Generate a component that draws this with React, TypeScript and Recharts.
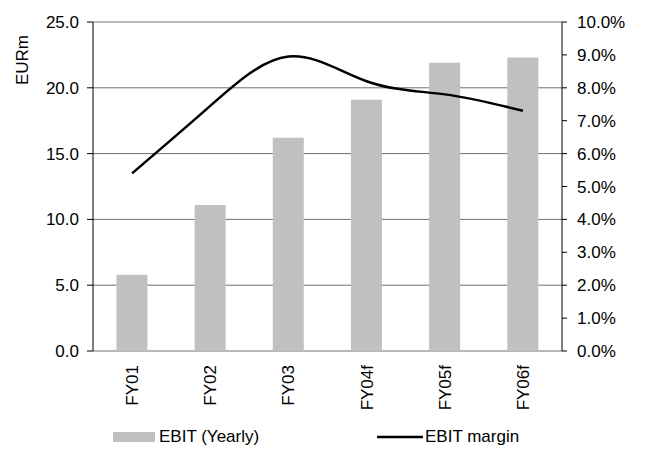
import { ComposedChart, Bar, Line, XAxis, YAxis, CartesianGrid, Legend } from 'recharts'

const years = ['FY01', 'FY02', 'FY03', 'FY04f', 'FY05f', 'FY06f']
const ebit = [5.8, 11.1, 16.2, 19.1, 21.9, 22.3]
const ebitMargin = [5.4, 7.45, 8.95, 8.2, 7.8, 7.3]

const leftTicks = [0, 5, 10, 15, 20, 25]
const rightTicks = [0, 1, 2, 3, 4, 5, 6, 7, 8, 9, 10]
const edgeTicks = [0, 1, 2, 3, 4, 5, 6]

const data = years.map((name, i) => ({ name, ebit: ebit[i], margin: ebitMargin[i] }))

const FONT = '"Liberation Sans", Arial, sans-serif'
const BAR_GREY = '#c0c0c0'
const tickStyle = { fontSize: 17, fill: '#000', fontFamily: FONT }

function YearTick({ x, y, payload }: any) {
  const tx = x + 6
  const ty = y + 6
  return (
    <text
      x={tx}
      y={ty}
      transform={`rotate(-90, ${tx}, ${ty})`}
      textAnchor="end"
      fontSize={17}
      fontFamily={FONT}
      fill="#000"
    >
      {payload.value}
    </text>
  )
}

function LegendBox() {
  return (
    <svg width={645} height={25} style={{ display: 'block' }}>
      <rect x={113} y={7} width={42} height={10} fill={BAR_GREY} />
      <text x={159} y={17} fontSize={17} fontFamily={FONT} fill="#000">EBIT (Yearly)</text>
      <line x1={377} x2={423} y1={12} y2={12} stroke="#000" strokeWidth={2.5} />
      <text x={425} y={17} fontSize={17} fontFamily={FONT} fill="#000">EBIT margin</text>
    </svg>
  )
}

export default function App() {
  return (
    <div style={{ position: 'absolute', left: 0, top: 0 }}>
      <ComposedChart
        width={645}
        height={450}
        data={data}
        barCategoryGap="30%"
        margin={{ top: 22, right: 0, bottom: 34, left: 0 }}
      >
        <CartesianGrid yAxisId="eur" xAxisId="cat" vertical={false} stroke="#707070" horizontalValues={leftTicks} />
        <XAxis
          xAxisId="edge"
          type="number"
          domain={[0, 6]}
          ticks={edgeTicks}
          tick={false}
          height={0}
          tickSize={6}
          stroke="#000"
        />
        <XAxis
          xAxisId="cat"
          dataKey="name"
          height={65}
          axisLine={false}
          tickLine={false}
          interval={0}
          tick={<YearTick />}
        />
        <YAxis
          yAxisId="eur"
          width={93}
          domain={[0, 25]}
          ticks={leftTicks}
          tickFormatter={(v: number) => v.toFixed(1)}
          tick={tickStyle}
          tickSize={6}
          tickMargin={8}
          stroke="#000"
          label={{
            content: ({ viewBox }: any) => (
              <text
                x={viewBox.x + 28}
                y={viewBox.y + 13}
                transform={`rotate(-90, ${viewBox.x + 28}, ${viewBox.y + 13})`}
                textAnchor="end"
                fontSize={17}
                fontFamily={FONT}
                fill="#000"
              >
                EURm
              </text>
            ),
          }}
        />
        <YAxis
          yAxisId="pct"
          orientation="right"
          width={83}
          domain={[0, 10]}
          ticks={rightTicks}
          tickFormatter={(v: number) => `${v.toFixed(1)}%`}
          tick={{ ...tickStyle, textAnchor: 'start' }}
          tickSize={5}
          tickMargin={10}
          stroke="#000"
        />
        <Bar xAxisId="cat" yAxisId="eur" dataKey="ebit" name="EBIT (Yearly)" fill={BAR_GREY} isAnimationActive={false} />
        <Line
          xAxisId="cat"
          yAxisId="pct"
          dataKey="margin"
          name="EBIT margin"
          type="natural"
          stroke="#000"
          strokeWidth={2.5}
          dot={false}
          isAnimationActive={false}
        />
        <Legend
          layout="horizontal"
          verticalAlign="middle"
          align="center"
          wrapperStyle={{ top: 425, left: 0, width: 645 }}
          content={() => <LegendBox />}
        />
      </ComposedChart>
    </div>
  )
}
